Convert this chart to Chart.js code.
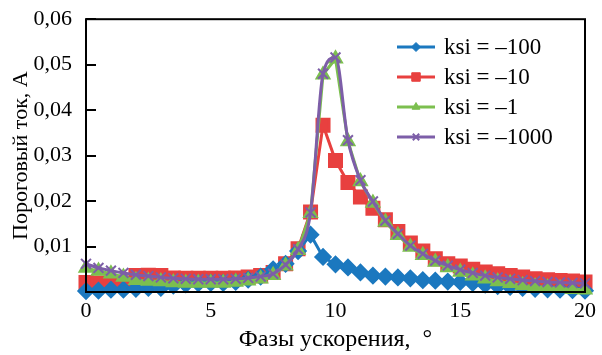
<!DOCTYPE html>
<html>
<head>
<meta charset="utf-8">
<script src="https://cdn.jsdelivr.net/npm/chart.js@4"></script>
<style>
  html, body { margin: 0; padding: 0; background: #fff; }
  #wrap { width: 602px; height: 355px; }
</style>
</head>
<body>
<div id="wrap"><canvas id="chart" width="602" height="355"></canvas></div>
<script>
var xs = [0,0.5,1,1.5,2,2.5,3,3.5,4,4.5,5,5.5,6,6.5,7,7.5,8,8.5,9,9.5,10,10.5,11,11.5,12,12.5,13,13.5,14,14.5,15,15.5,16,16.5,17,17.5,18,18.5,19,19.5,20];

var ksi100 = [0.0002,0.0003,0.0005,0.0005,0.0007,0.0009,0.0009,0.0014,0.0017,0.0019,0.002,0.002,0.0022,0.0027,0.0034,0.005,0.0062,0.009,0.0126,0.0077,0.0061,0.0054,0.0043,0.0036,0.0034,0.0032,0.003,0.0026,0.0025,0.0023,0.0022,0.002,0.0016,0.0013,0.0011,0.0009,0.0007,0.0006,0.0005,0.0004,0.0003];
var ksi10 = [0.0021,0.002,0.0019,0.0019,0.0036,0.0037,0.0036,0.0031,0.003,0.003,0.003,0.003,0.0031,0.0033,0.0036,0.0043,0.0062,0.0095,0.0176,0.0367,0.0289,0.0241,0.0209,0.0184,0.0159,0.0133,0.0108,0.009,0.0073,0.0062,0.0057,0.005,0.0044,0.004,0.0036,0.0033,0.0029,0.0027,0.0025,0.0024,0.0022];
var ksi1 = [0.0053,0.0046,0.004,0.0033,0.0026,0.0024,0.0023,0.0021,0.002,0.002,0.002,0.002,0.0022,0.0025,0.0029,0.0037,0.0058,0.0092,0.0173,0.0478,0.0513,0.0331,0.0243,0.0196,0.0154,0.0125,0.0099,0.0081,0.0066,0.0054,0.0044,0.0036,0.0029,0.0023,0.0019,0.0015,0.0012,0.001,0.0008,0.0006,0.0005];
var ksi1000 = [0.0062,0.0053,0.0047,0.0042,0.0038,0.0035,0.0032,0.003,0.0029,0.0028,0.0028,0.0028,0.0029,0.0031,0.0034,0.004,0.006,0.0094,0.0175,0.048,0.0516,0.0334,0.0246,0.0199,0.0157,0.0128,0.0102,0.0084,0.0069,0.0058,0.0049,0.0042,0.0036,0.0032,0.0029,0.0026,0.0024,0.0022,0.0021,0.002,0.0019];

var seriesNames = ['ksi = \u2013100', 'ksi = \u201310', 'ksi = \u20131', 'ksi = \u20131000'];
var yTicks = [0, 0.01, 0.02, 0.03, 0.04, 0.05, 0.06];
var xTicks = [0, 5, 10, 15, 20];

var serif = "'Liberation Serif', 'Times New Roman', serif";

function pts(ys){
  return xs.map(function(x, i){ return {x: x, y: ys[i]}; });
}

// legend inside plot + frame + inward y ticks
var framePlugin = {
  id: 'frame',
  afterDraw: function(chart){
    var ctx = chart.ctx, a = chart.chartArea;
    var ys = chart.scales.y;
    ctx.save();
    ctx.strokeStyle = '#000';
    ctx.lineWidth = 2;
    ctx.strokeRect(a.left, a.top, a.right - a.left, a.bottom - a.top);
    ctx.beginPath();
    yTicks.forEach(function(v){
      var py = Math.round(ys.getPixelForValue(v));
      ctx.moveTo(a.left, py);
      ctx.lineTo(a.left + 10, py);
    });
    ctx.stroke();

    var lx = 397, ly = 47, row = 30;
    chart.data.datasets.forEach(function(ds, i){
      var y = ly + i * row;
      ctx.strokeStyle = ds.borderColor;
      ctx.lineWidth = 3;
      ctx.beginPath();
      ctx.moveTo(lx, y);
      ctx.lineTo(lx + 38, y);
      ctx.stroke();
      ctx.fillStyle = ds.backgroundColor;
      ctx.strokeStyle = ds.borderColor;
      ctx.lineWidth = ds.pointStyle == 'crossRot' ? 2 : 1;
      Chart.helpers.drawPoint(ctx, {pointStyle: ds.pointStyle, radius: ds.pointStyle == 'rect' ? 6 : 4.5, borderWidth: 1}, lx + 19, y);
      ctx.fillStyle = '#000';
      ctx.font = "23px " + serif;
      ctx.textBaseline = 'middle';
      ctx.fillText(ds.label, lx + 47, y + 1);
    });
    ctx.restore();
  }
};

var chart = new Chart(document.getElementById('chart'), {
  type: 'line',
  data: {
    datasets: [
      {
        label: seriesNames[0], data: pts(ksi100),
        borderColor: '#1b78bf', backgroundColor: '#1b78bf',
        pointStyle: 'rectRot', pointRadius: 7, borderWidth: 3,
        tension: 0, order: 2, clip: 10
      },
      {
        label: seriesNames[1], data: pts(ksi10),
        borderColor: '#e8403f', backgroundColor: '#e8403f',
        pointStyle: 'rect', pointRadius: 8.5, borderWidth: 3,
        tension: 0, order: 3, clip: 10
      },
      {
        label: seriesNames[2], data: pts(ksi1),
        borderColor: '#7cbf4f', backgroundColor: '#7cbf4f',
        pointStyle: 'triangle', pointRadius: 6.5, borderWidth: 3,
        tension: 0, order: 1, clip: 10
      },
      {
        label: seriesNames[3], data: pts(ksi1000),
        borderColor: '#7d5ea8', backgroundColor: '#7d5ea8',
        pointStyle: 'crossRot', pointRadius: 7, pointBorderWidth: 2, borderWidth: 3,
        cubicInterpolationMode: 'monotone', order: 0, clip: 10
      }
    ]
  },
  options: {
    responsive: false,
    animation: false,
    layout: { padding: { top: 14, right: 13, left: 0, bottom: 0 } },
    plugins: {
      legend: { display: false },
      tooltip: { enabled: false }
    },
    scales: {
      x: {
        type: 'linear', min: 0, max: 20,
        afterFit: function(s){ s.height = 63; },
        afterBuildTicks: function(s){ s.ticks = xTicks.map(function(v){ return {value: v}; }); },
        grid: { display: false, drawTicks: false },
        border: { display: false },
        ticks: { color: '#000', padding: 6, maxRotation: 0, font: { family: serif, size: 22 } },
        title: { display: true, text: 'Фазы ускорения,  °', color: '#000', padding: { top: 0, bottom: 1 }, font: { family: serif, size: 24 } }
      },
      y: {
        type: 'linear', min: 0, max: 0.06,
        afterFit: function(s){ s.width = 86; },
        afterBuildTicks: function(s){ s.ticks = yTicks.map(function(v){ return {value: v}; }); },
        grid: { display: false },
        border: { display: false },
        ticks: {
          color: '#000', padding: 6, font: { family: serif, size: 22 },
          callback: function(v){ return v == 0 ? '' : v.toFixed(2).replace('.', ','); }
        },
        title: { display: true, text: 'Пороговый ток, А', color: '#000', padding: { top: 8, bottom: 0 }, font: { family: serif, size: 22 } }
      }
    }
  },
  plugins: [framePlugin]
});
</script>
</body>
</html>
